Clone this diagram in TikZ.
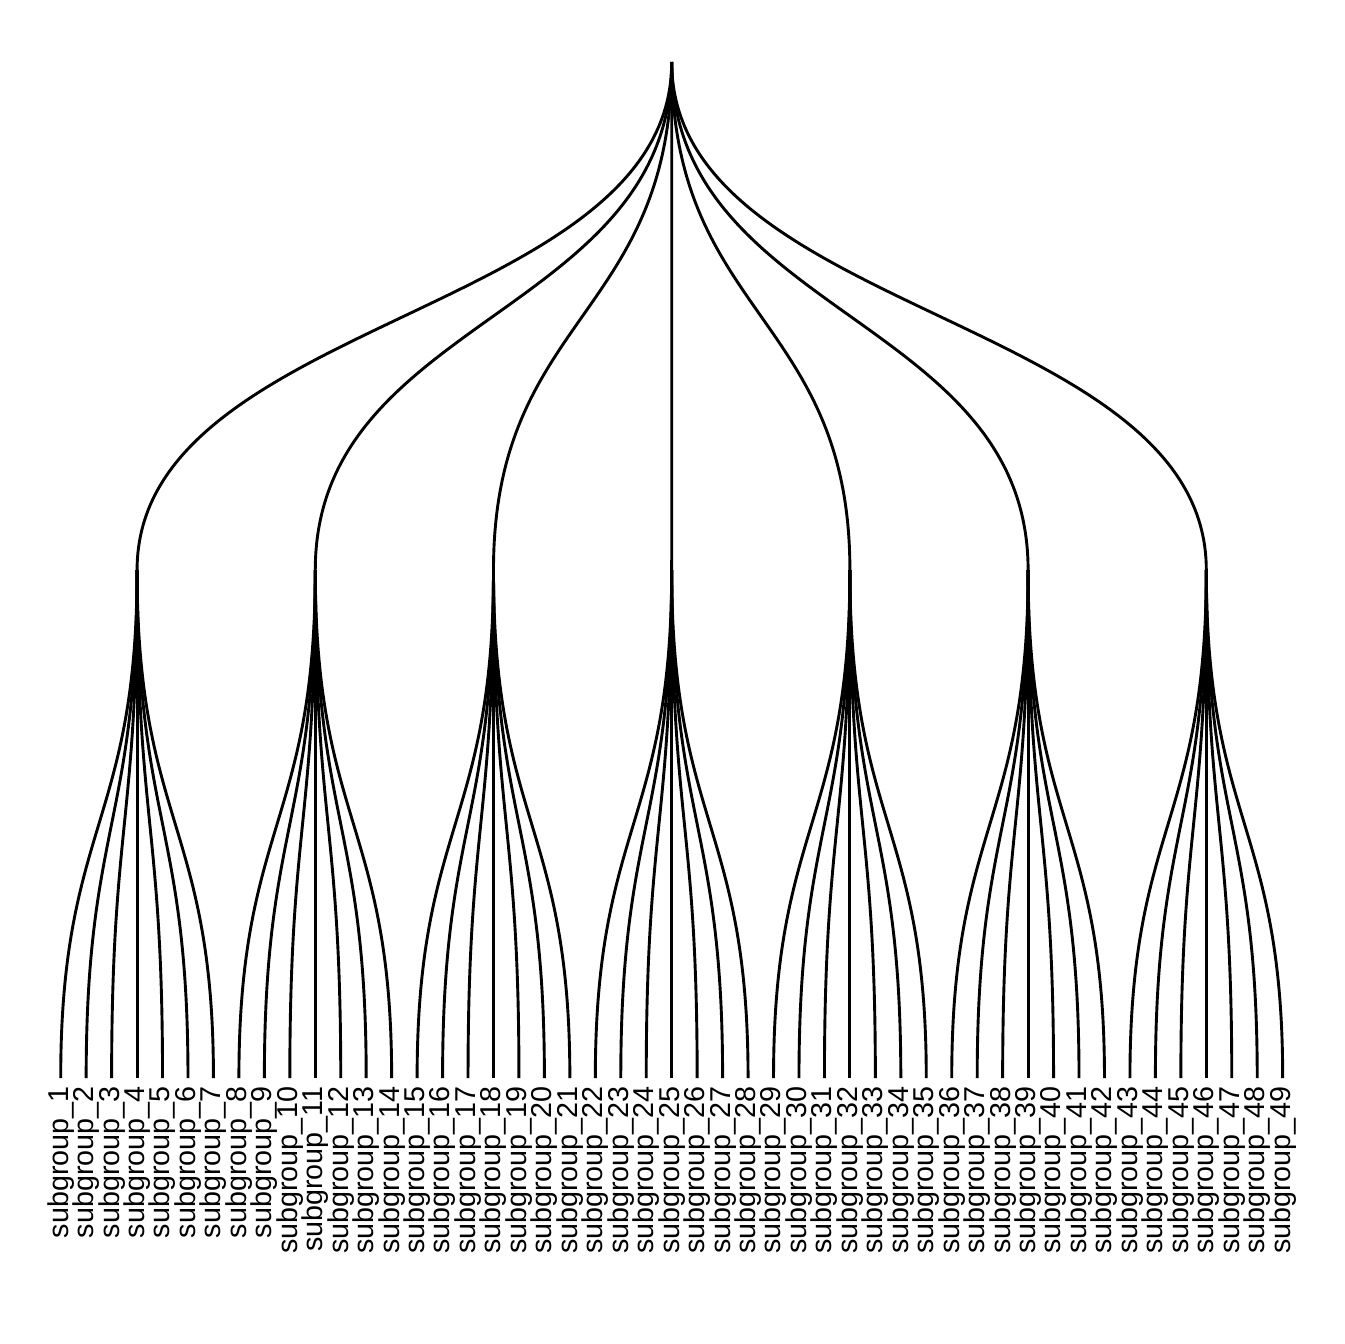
\documentclass[tikz,border=0pt]{standalone}
\usepackage{fontspec}
\setmainfont{Liberation Sans}
\tikzset{
  edge/.style={line width=1.45pt, black},
  leaflabel/.style={rotate=90, anchor=east, inner sep=0pt, font=\fontsize{14.35}{16}\selectfont}
}
\begin{document}
\begin{tikzpicture}[x=0.5pt,y=-0.5pt]
\useasboundingbox (0,0) rectangle (1344,1344);
\coordinate (root) at (671.7,62);
\foreach \i in {1,...,49} {
  \coordinate (l\i) at ({60.7+(\i-1)*25.458},1078);
  \node[leaflabel] (t\i) at ({60.7+(\i-1)*25.458},1086) {subgroup\_\i};
}
\foreach \g in {1,...,7} {
  \pgfmathtruncatemacro{\c}{7*(\g-1)+4}
  \coordinate (g\g) at ({60.7+(\c-1)*25.458},570);
  \draw[edge] (root) .. controls +(0,254) and +(0,-254) .. (g\g);
  \foreach \k in {1,...,7} {
    \pgfmathtruncatemacro{\leaf}{7*(\g-1)+\k}
    \draw[edge] (g\g) .. controls +(0,254) and +(0,-254) .. (l\leaf);
  }
}
\end{tikzpicture}
\end{document}
